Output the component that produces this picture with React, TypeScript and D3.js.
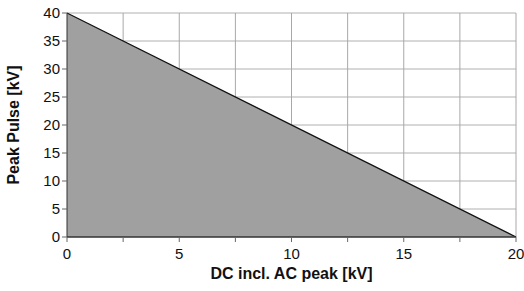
import React from 'react';
import * as d3 from 'd3';

const dcValues = [0, 20];
const pulseValues = [40, 0];
const xTicks = [0, 5, 10, 15, 20];
const xGrid = [2.5, 5, 7.5, 10, 12.5, 15, 17.5, 20];
const yTicks = [0, 5, 10, 15, 20, 25, 30, 35, 40];

const width = 524;
const height = 291;
const margin = { top: 13, right: 8, bottom: 54, left: 67 };

export default function App() {
  const x = d3.scaleLinear().domain([0, 20]).range([margin.left, width - margin.right]);
  const y = d3.scaleLinear().domain([0, 40]).range([height - margin.bottom, margin.top]);

  const pts = dcValues.map((d, i) => [d, pulseValues[i]] as [number, number]);
  const area = d3.area<[number, number]>()
    .x(d => x(d[0]))
    .y0(y(0))
    .y1(d => y(d[1]));
  const line = d3.line<[number, number]>().x(d => x(d[0])).y(d => y(d[1]));

  const font = 'Liberation Sans, Arial, sans-serif';

  return (
    <svg width={width} height={height} style={{ position: 'absolute', left: 0, top: 0, background: '#fff' }}>
      {yTicks.filter(t => t > 0).map(t => (
        <line key={'gy' + t} x1={x(0)} x2={x(20)} y1={y(t)} y2={y(t)} stroke="#b0b0b0" strokeWidth={1} />
      ))}
      {xGrid.map(t => (
        <line key={'gx' + t} x1={x(t)} x2={x(t)} y1={y(0)} y2={y(40)} stroke="#a8a8a8" strokeWidth={1} />
      ))}
      <path d={area(pts) || ''} fill="#a0a0a0" />
      <path d={line(pts) || ''} fill="none" stroke="#111" strokeWidth={1.2} />
      <line x1={x(0)} x2={x(0)} y1={y(0)} y2={y(40)} stroke="#333" strokeWidth={1} />
      <line x1={x(0)} x2={x(20)} y1={y(0)} y2={y(0)} stroke="#333" strokeWidth={1.5} />
      {yTicks.map(t => (
        <g key={'ty' + t}>
          <line x1={x(0) - 5} x2={x(0)} y1={y(t)} y2={y(t)} stroke="#666" />
          <text x={x(0) - 7} y={y(t)} dy="0.35em" textAnchor="end" fontFamily={font} fontSize={15} fill="#111">{t}</text>
        </g>
      ))}
      {[0, ...xGrid].map(t => (
        <line key={'tx' + t} x1={x(t)} x2={x(t)} y1={y(0)} y2={y(0) + 5} stroke="#666" />
      ))}
      {xTicks.map(t => (
        <text key={'lx' + t} x={x(t)} y={y(0) + 22} textAnchor="middle" fontFamily={font} fontSize={15} fill="#111">{t}</text>
      ))}
      <text x={(x(0) + x(20)) / 2} y={279} textAnchor="middle" fontFamily={font} fontSize={16} fontWeight="bold" fill="#111">DC incl. AC peak [kV]</text>
      <text transform={`translate(19,${(y(0) + y(40)) / 2}) rotate(-90)`} textAnchor="middle" fontFamily={font} fontSize={16} fontWeight="bold" fill="#111">Peak Pulse [kV]</text>
    </svg>
  );
}
